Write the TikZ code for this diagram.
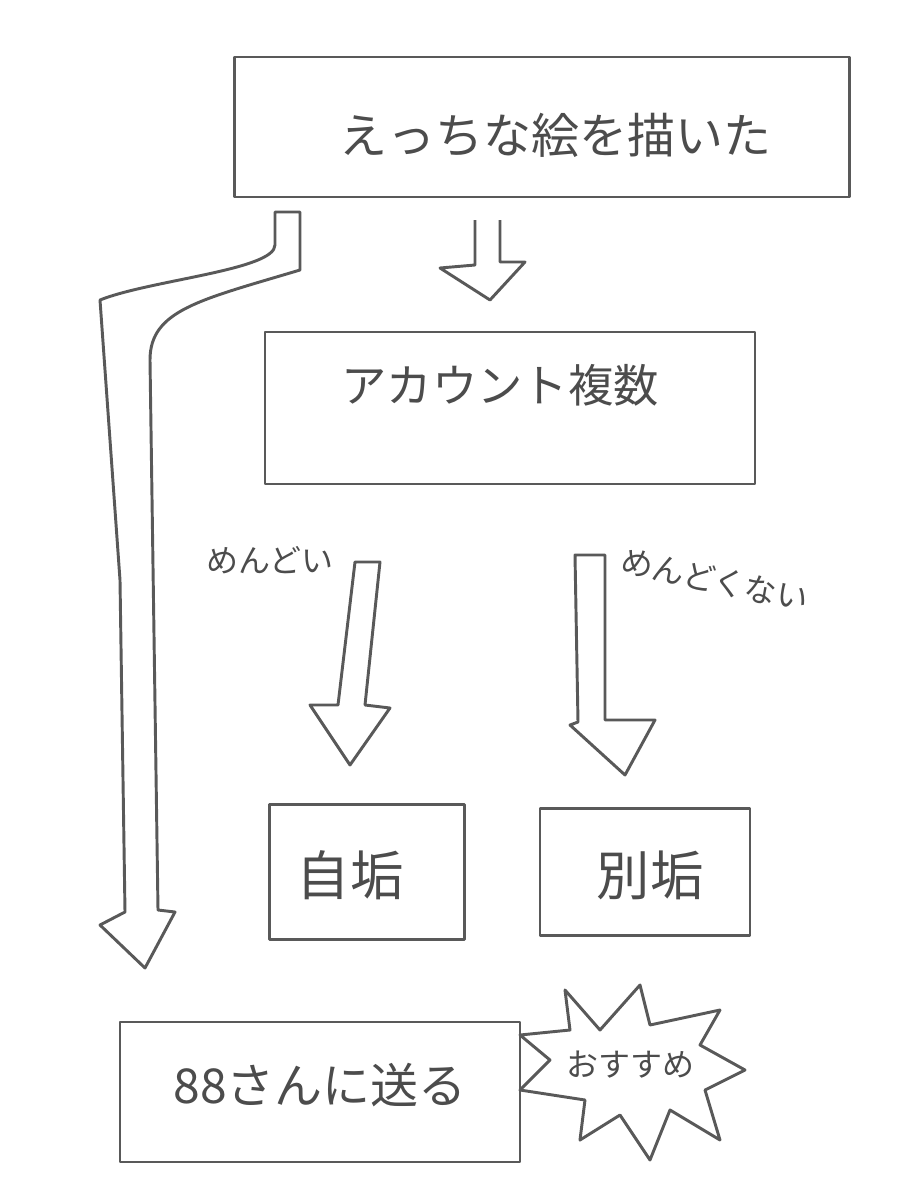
\documentclass[tikz,border=0pt]{standalone}
\usepackage{fontspec}
\newfontfamily\cjk{Noto Sans CJK JP}
\begin{document}
\begin{tikzpicture}[x=0.75pt,y=-0.75pt,
  ln/.style={draw=black!65,line width=2.2pt,line join=round},
  tx/.style={font=\cjk,text=black!70}]
\useasboundingbox (0,0) rectangle (900,1200);
\node[ln,minimum width=615pt*0.75,minimum height=140pt*0.75] (b1) at (542,127) {};
\node[tx,font=\cjk\fontsize{36}{40}\selectfont] (t1) at (555,135) {えっちな絵を描いた};
\node[ln,minimum width=490pt*0.75,minimum height=152pt*0.75] (b2) at (510,408) {};
\node[tx,font=\cjk\fontsize{34}{40}\selectfont] (t2) at (500,385) {アカウント複数};
\node[ln,minimum width=195pt*0.75,minimum height=135pt*0.75] (b3) at (367,872) {};
\node[tx,font=\cjk\fontsize{40}{44}\selectfont] (t3) at (350,875) {自垢};
\node[ln,minimum width=210pt*0.75,minimum height=127pt*0.75] (b4) at (645,872) {};
\node[tx,font=\cjk\fontsize{40}{44}\selectfont] (t4) at (650,875) {別垢};
\node[ln,minimum width=400pt*0.75,minimum height=140pt*0.75] (b5) at (320,1092) {};
\node[tx,font=\cjk\fontsize{36}{40}\selectfont] (t5) at (320,1085) {88さんに送る};
\node[tx,font=\cjk\fontsize{24}{28}\selectfont] (l1) at (270,560) {めんどい};
\node[tx,font=\cjk\fontsize{24}{28}\selectfont,rotate=-12] (l2) at (715,580) {めんどくない};
% starburst
\coordinate (sc) at (630,1065);
\draw[ln,fill=white] (565,990) -- (600,1030) -- (640,985) -- (650,1025) -- (720,1010) -- (700,1045) -- (745,1070) -- (705,1090) -- (720,1140) -- (670,1110) -- (650,1160) -- (620,1115) -- (580,1140) -- (585,1100) -- (520,1090) -- (550,1060) -- (520,1035) -- (570,1030) -- cycle;
\node[tx,font=\cjk\fontsize{24}{28}\selectfont] (t6) at (sc) {おすすめ};
% down arrow
\draw[ln] (475,220) -- (475,265) -- (440,268) -- (490,300) -- (525,262) -- (500,262) -- (500,220);
% left long arrow
\draw[ln] (275,212) -- (300,212) -- (300,270) .. controls (200,300) and (150,310) .. (150,360) -- (158,910) -- (175,912) -- (145,968) -- (100,925) -- (125,912) -- (120,580) -- (100,300) .. controls (150,280) and (275,270) .. (275,245) -- cycle;
% middle-left arrow
\draw[ln] (355,562) -- (380,562) -- (365,705) -- (390,708) -- (350,765) -- (310,705) -- (338,705) -- cycle;
% right arrow
\draw[ln] (575,555) -- (605,555) -- (605,720) -- (655,720) -- (625,775) -- (570,725) -- (578,722) -- cycle;
\end{tikzpicture}
\end{document}
